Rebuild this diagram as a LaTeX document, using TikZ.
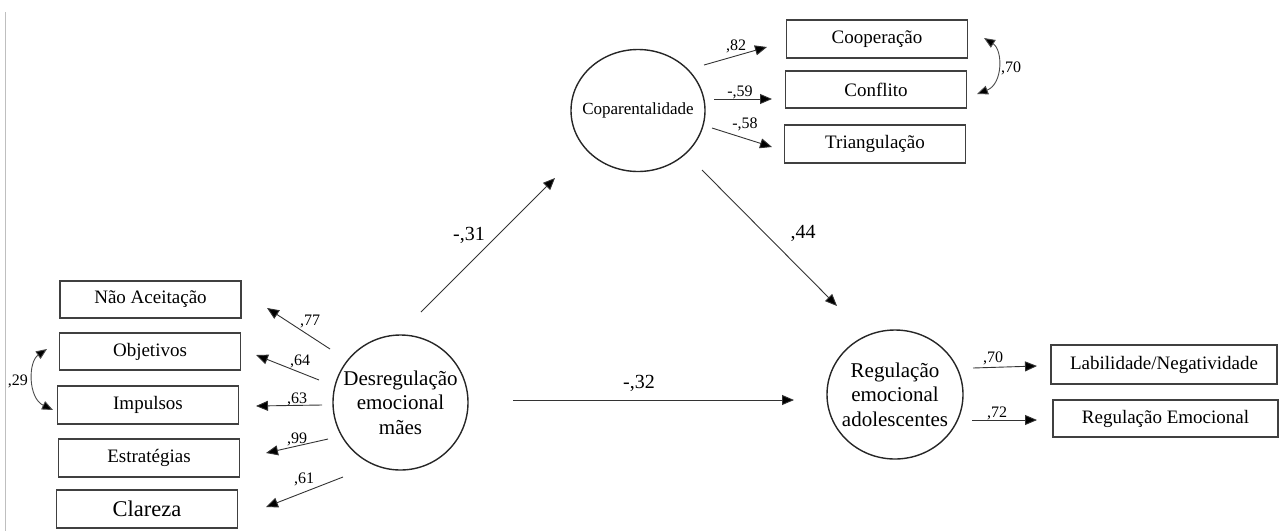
\documentclass[tikz,border=0pt]{standalone}
\usepackage{fontspec}
\setmainfont{Liberation Serif}
\usetikzlibrary{shapes,arrows.meta}
\tikzset{
    obs/.style = {draw=black!75, line width=1.1pt, rectangle, inner sep=0pt,
        minimum width=181pt, minimum height=37pt, font=\fontsize{19}{22}\selectfont},
    lat/.style = {draw=black!85, line width=1.4pt, ellipse, inner sep=0pt},
    latxt/.style = {align=center, inner sep=0pt, font=\fontsize{21}{24.5}\selectfont},
    load/.style = {-{Triangle[length=12pt,width=10pt,fill=black]}, draw=black!80, line width=0.9pt},
    cov/.style = {{Triangle[length=11pt,width=9pt,fill=black]}-{Triangle[length=11pt,width=9pt,fill=black]},
        draw=black!70, line width=0.9pt},
    coef/.style = {anchor=base, inner sep=0pt, font=\fontsize{16}{18}\selectfont},
    bigcoef/.style = {anchor=base, inner sep=0pt, font=\fontsize{20}{22}\selectfont}
}

\begin{document}
\begin{tikzpicture}[x=1pt,y=-1pt]
    \useasboundingbox (0,0) rectangle (1279,531);
    \draw [black!25, line width=0.8pt] (5,12) -- (5,531);

    % Desregulacao
    \node[lat, minimum width=135pt, minimum height=135pt,
        label={[latxt]center:Desregulação\\emocional\\mães}] (des) at (400.5,402.5) {};

    \node[obs] (nao) at (150.5,299.5) {Não Aceitação};
    \node[obs] (obj) at (150,351.5) {Objetivos};
    \node[obs, minimum height=38pt] (imp) at (148,405) {Impulsos};
    \node[obs, minimum height=38pt] (est) at (149,458) {Estratégias};
    \node[obs, minimum height=38pt, font=\fontsize{22.5}{25}\selectfont] (cla) at (147,509) {Clareza};

    \coordinate(NAs) at (330,349);  \coordinate(NAn) at (267,308);
    \coordinate(OBs) at (319,380);  \coordinate(OBn) at (256,355);
    \coordinate(IMs) at (322,405);  \coordinate(IMn) at (256,406);
    \coordinate(ESs) at (328,439);  \coordinate(ESn) at (266,453);
    \coordinate(CLs) at (343,477);  \coordinate(CLn) at (266,507);

    \draw [load] (NAs)--(NAn);
    \draw [load] (OBs)--(OBn);
    \draw [load] (IMs)--(IMn);
    \draw [load] (ESs)--(ESn);
    \draw [load] (CLs)--(CLn);

    \node[coef] (c77) at (310,325) {,77};
    \node[coef] (c64) at (300,365) {,64};
    \node[coef] (c63) at (297,403) {,63};
    \node[coef] (c99) at (297,443) {,99};
    \node[coef] (c61) at (304,483) {,61};

    \coordinate(OBw) at (47,349);
    \coordinate(IMw) at (53,410);
    \draw [cov] (OBw) .. controls (28,362) and (28,398) .. (IMw);
    \node[coef] (c29) at (18,385) {,29};

    % Coparentalidade
    \node[lat, minimum width=134pt, minimum height=122pt,
        label={[latxt, font=\fontsize{17}{20}\selectfont]center:Coparentalidade}] (cop) at (638,110.5) {};

    \node[obs, minimum height=38pt] (coo) at (877,39) {Cooperação};
    \node[obs] (con) at (876,89.5) {Conflito};
    \node[obs, minimum height=38pt] (tri) at (875,144) {Triangulação};

    \coordinate(COs) at (704,65);  \coordinate(COn) at (767,47);
    \coordinate(CFs) at (714,99);  \coordinate(CFn) at (772,99);
    \coordinate(TRs) at (712,128); \coordinate(TRn) at (772,147);

    \draw [load] (COs)--(COn);
    \draw [load] (CFs)--(CFn);
    \draw [load] (TRs)--(TRn);

    \node[coef] (c82) at (736,50) {,82};
    \node[coef] (c59) at (740,96) {-,59};
    \node[coef] (c58) at (745,128) {-,58};

    \coordinate(COe) at (984,38);
    \coordinate(CFe) at (977,94);
    \draw [cov] (COe) .. controls (1003,50) and (1003,84) .. (CFe);
    \node[coef] (c70a) at (1011,72) {,70};

    % Regulacao adolescentes
    \node[lat, minimum width=136pt, minimum height=129pt,
        label={[latxt]center:Regulação\\emocional\\adolescentes}] (reg) at (895,394.5) {};

    \node[obs, minimum width=226pt, minimum height=39pt] (lab) at (1164,364.5) {Labilidade/Negatividade};
    \node[obs, minimum width=225pt] (rem) at (1165.5,418.5) {Regulação Emocional};

    \coordinate(LBs) at (973,368); \coordinate(LBn) at (1037,366);
    \coordinate(REs) at (972,420); \coordinate(REn) at (1037,420);

    \draw [load] (LBs)--(LBn);
    \draw [load] (REs)--(REn);

    \node[coef] (c70b) at (993,362) {,70};
    \node[coef] (c72) at (997,417) {,72};

    % structural paths
    \coordinate(DCs) at (421,312); \coordinate(DCn) at (555,178);
    \coordinate(CRs) at (702,170); \coordinate(CRn) at (837,306);
    \coordinate(DRs) at (513,400); \coordinate(DRn) at (794,400);

    \draw [load] (DCs)--(DCn);
    \draw [load] (CRs)--(CRn);
    \draw [load] (DRs)--(DRn);

    \node[bigcoef] (c31) at (469,240) {-,31};
    \node[bigcoef] (c44) at (803,238) {,44};
    \node[bigcoef] (c32) at (639,388) {-,32};

\end{tikzpicture}
\end{document}
